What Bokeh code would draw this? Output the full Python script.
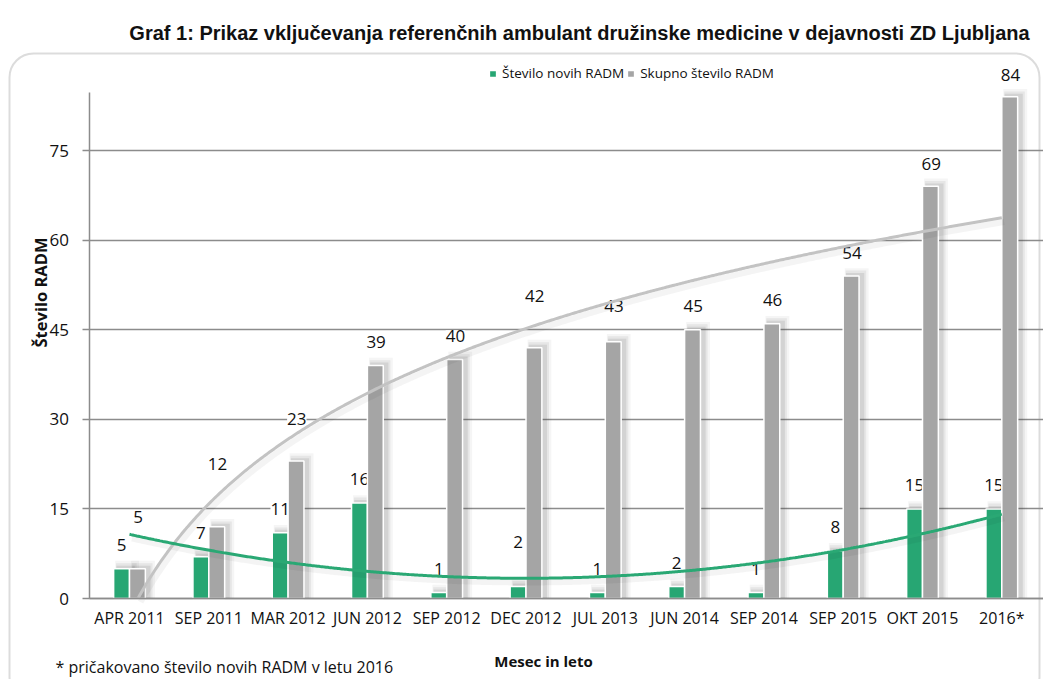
import numpy as np
from bokeh.plotting import figure
from bokeh.models import (Range1d, FixedTicker, ColumnDataSource, LabelSet, Label,
                          Legend, LegendItem, BoxAnnotation, Grid)
from bokeh.core.properties import value
from bokeh.embed import file_html
from bokeh.resources import INLINE

# ---------------- data ----------------
categories = ["APR 2011", "SEP 2011", "MAR 2012", "JUN 2012", "SEP 2012", "DEC 2012",
              "JUL 2013", "JUN 2014", "SEP 2014", "SEP 2015", "OKT 2015", "2016*"]
new_radm = [5, 7, 11, 16, 1, 2, 1, 2, 1, 8, 15, 15]
total_radm = [5, 12, 23, 39, 40, 42, 43, 45, 46, 54, 69, 84]
y_ticks = [0, 15, 30, 45, 60, 75]

title_text = "Graf 1: Prikaz vključevanja referenčnih ambulant družinske medicine v dejavnosti ZD Ljubljana"
series_names = ["Število novih RADM", "Skupno število RADM"]
y_title = "Število RADM"
x_title = "Mesec in leto"
footnote = "* pričakovano število novih RADM v letu 2016"

# label placement (style only): lift above bar top, in value units
new_label_lift = [4, 4, 4, 4, 4, 7.4, 4, 4, 4, 4, 4, 4]
total_label_lift = [8.7, 10.6, 7.1, 3.9, 3.9, 8.6, 6.0, 4.0, 3.9, 3.8, 3.8, 3.7]

GREEN = "#27A673"
GRAY = "#A5A5A5"
GRID = "#8C8C8C"
FONT = "Open Sans"
TFONT = "'Liberation Sans', Arial, sans-serif"
TXT = "#111111"

# ---------------- layout (pixels) ----------------
W, H = 1043, 679
CAT_PX = 79.3          # pixels per category
FIRST_CAT_PX = 129     # x pixel of first category centre
ZERO_PX = 598          # y pixel (from top) of value 0
UNIT_PX = 5.973        # pixels per value unit
AXIS_TOP = 84.7        # value where the value axis ends

x0 = 1 - FIRST_CAT_PX / CAT_PX
x1 = x0 + W / CAT_PX
y1 = ZERO_PX / UNIT_PX
y0 = -(H - ZERO_PX) / UNIT_PX

def dx(px):   # canvas x pixel -> data x
    return x0 + px / CAT_PX

def dy(py):   # canvas y pixel (from top) -> data y
    return y1 - py / UNIT_PX

p = figure(width=W, height=H, output_backend="svg", toolbar_location=None,
           x_range=Range1d(x0, x1), y_range=Range1d(y0, y1),
           min_border=0, background_fill_color="white", border_fill_color="white")
p.outline_line_color = None

idx = np.arange(1, len(categories) + 1)
bw = 0.2
gx = idx - bw / 2
tx = idx + bw / 2

# gridlines (value axis) limited to plot area
p.xgrid.visible = False
p.ygrid.ticker = FixedTicker(ticks=y_ticks)
p.ygrid.grid_line_color = GRID
p.ygrid.grid_line_width = 1.5
if "cross_bounds" in Grid.properties():
    p.ygrid.cross_bounds = (0.5, x1)
    p.ygrid.bounds = (0, AXIS_TOP)

# shadows
for ddx, dw, dt, a in [(0.07, 0.10, 1.3, 0.05), (0.06, 0.06, 0.9, 0.08), (0.05, 0.03, 0.5, 0.11)]:
    p.vbar(x=gx + ddx, top=np.array(new_radm) + dt, width=bw + dw, bottom=0,
           fill_color="#404040", fill_alpha=a, line_color=None)
    p.vbar(x=tx + ddx, top=np.array(total_radm) + dt, width=bw + dw, bottom=0,
           fill_color="#404040", fill_alpha=a, line_color=None)

src = ColumnDataSource(dict(gx=gx, tx=tx, new=new_radm, total=total_radm,
                            new_txt=[str(v) for v in new_radm],
                            tot_txt=[str(v) for v in total_radm],
                            new_ly=np.array(new_radm) + np.array(new_label_lift),
                            tot_ly=np.array(total_radm) + np.array(total_label_lift),
                            new_lx=gx, tot_lx=tx + 0.01))

# data labels (under the bars/lines, above the grid)
extra = {}
if "padding" in LabelSet.properties():
    extra["padding"] = 7
common = dict(source=src, text_font=value(FONT), text_font_size="17px", text_color=TXT,
              text_align="center", text_baseline="middle",
              background_fill_color="white", level="underlay", **extra)
p.add_layout(LabelSet(x="new_lx", y="new_ly", text="new_txt", **common))
p.add_layout(LabelSet(x="tot_lx", y="tot_ly", text="tot_txt", **common))

r_new = p.vbar(x="gx", top="new", width=bw, bottom=0, source=src,
               fill_color=GREEN, line_color="white", line_width=1.5)
r_tot = p.vbar(x="tx", top="total", width=bw, bottom=0, source=src,
               fill_color=GRAY, line_color="white", line_width=1.5)

# trendlines (Excel style: logarithmic for total, polynomial order 2 for new)
xs = np.linspace(1, len(categories), 600)
a_log, b_log = np.polyfit(np.log(idx), total_radm, 1)
tot_trend = a_log * np.log(xs) + b_log
c_poly = np.polyfit(idx, new_radm, 2)
new_trend = np.polyval(c_poly, xs)
keep = tot_trend >= 0            # plot area starts at 0
xs_t, tot_t = xs[keep], tot_trend[keep]

p.line(xs_t + 0.03, tot_t - 0.7, line_color="#000000", line_alpha=0.045, line_width=6)
p.line(xs + 0.03, new_trend - 0.7, line_color="#000000", line_alpha=0.045, line_width=6)
p.line(xs_t, tot_t, line_color="#C3C3C3", line_width=3)
p.line(xs, new_trend, line_color="#2AA874", line_width=3)

# axes at fixed locations inside the canvas
p.yaxis.fixed_location = 0.5
p.yaxis.bounds = (0, AXIS_TOP)
p.yaxis.ticker = FixedTicker(ticks=y_ticks)
p.yaxis.axis_line_color = GRID
p.yaxis.axis_line_width = 1.5
p.yaxis.major_tick_line_color = GRID
p.yaxis.major_tick_line_width = 1.5
p.yaxis.major_tick_out = 7
p.yaxis.major_tick_in = 0
p.yaxis.minor_tick_line_color = None
p.yaxis.major_label_standoff = 14
p.yaxis.major_label_text_font = FONT
p.yaxis.major_label_text_font_size = "17px"
p.yaxis.major_label_text_color = TXT

p.xaxis.fixed_location = 0
p.xaxis.bounds = (0.5, x1)
p.xaxis.ticker = FixedTicker(ticks=list(idx))
p.xaxis.major_label_overrides = {int(i): c for i, c in zip(idx, categories)}
p.xaxis.axis_line_color = GRID
p.xaxis.axis_line_width = 1.5
p.xaxis.major_tick_line_color = None
p.xaxis.minor_tick_line_color = None
p.xaxis.major_tick_out = 0
p.xaxis.major_tick_in = 0
p.xaxis.major_label_standoff = 8
p.xaxis.major_label_text_font = FONT
p.xaxis.major_label_text_font_size = "16px"
p.xaxis.major_label_text_color = TXT

# legend
legend = Legend(items=[LegendItem(label=series_names[0], renderers=[r_new]),
                       LegendItem(label=series_names[1], renderers=[r_tot])],
                orientation="horizontal", location=(488, H - 82),
                glyph_width=9, glyph_height=9, label_standoff=5, spacing=2,
                padding=0, margin=0, label_height=18,
                label_text_font=FONT, label_text_font_size="13.5px", label_text_color=TXT,
                background_fill_alpha=0, border_line_alpha=0)
p.add_layout(legend)

# rounded chart border
p.add_layout(BoxAnnotation(left=dx(9), right=dx(1039), top=dy(53), bottom=dy(700),
                           fill_alpha=0, line_color="#8A8A8A", line_width=2,
                           border_radius=24, level="overlay"))

# texts
p.add_layout(Label(x=dx(579), y=dy(32), text=title_text,
                   text_font=TFONT, text_font_style="bold", text_font_size="20px",
                   text_color=TXT, text_align="center", text_baseline="middle"))
p.add_layout(Label(x=dx(40), y=dy(292), text=y_title, angle=np.pi / 2,
                   text_font=FONT, text_font_style="bold", text_font_size="16.5px",
                   text_color=TXT, text_align="center", text_baseline="middle"))
p.add_layout(Label(x=dx(543), y=dy(660), text=x_title,
                   text_font=FONT, text_font_style="bold", text_font_size="15px",
                   text_color=TXT, text_align="center", text_baseline="middle"))
p.add_layout(Label(x=dx(55), y=dy(677), text=footnote,
                   text_font=FONT, text_font_size="16px", text_color=TXT,
                   text_align="left", text_baseline="bottom"))

open("out.html", "w").write(file_html(p, INLINE))
